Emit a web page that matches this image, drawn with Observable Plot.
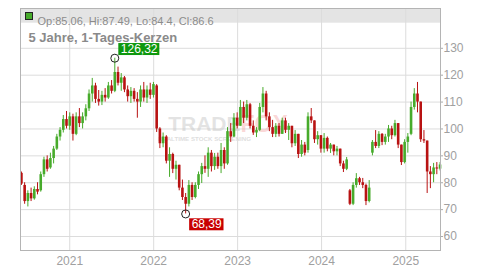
<!DOCTYPE html>
<html><head><meta charset="utf-8">
<script src="https://cdn.jsdelivr.net/npm/d3@7"></script>
<script src="https://cdn.jsdelivr.net/npm/@observablehq/plot@0.6"></script>
<style>
html,body{margin:0;padding:0;background:#fff;}
#chart svg{display:block;}
</style></head><body><div id="chart"></div>
<script>
// ---- data (biweekly candles) ----
const startDate = "2020-06-05";
const stepDays = 14;
const opens = [83.5,79,73,76,74,77.5,77,83,88.5,85.5,89,92.5,97,99.5,103.5,101,104.5,98,104.5,102,
104.5,107.5,113,116,111,110,112.5,111.5,116,114,121,117,119,114.5,112,114,111,110,114.5,111.5,
114.5,112.5,116,100,94.5,97,88,90.5,85,86.5,78,74.5,72,79,74.5,79,83,86,85,91,
86,89.5,86,92,87,99,97,104,101,108,104,109,101,98.5,99.5,108,113,104.5,100.5,98,
101,98,103,99.5,101,94.5,98,90.5,94,92,104.5,103,96,97.5,92.5,96.5,92.5,94,91.5,92.5,
87,85,77,72,79,81.5,80,79,73,91,95,93.5,98,95,97,100,97.5,102,94,87.5,
95,98,108,113,110,96,95.5,84,83,85.5,85.06];
const highs = [84,80,77,78,78.5,80,84,89.5,90,91,93.5,98,100.5,105,106.5,106,105.5,106,107.6,106,
109,114.5,118.8,117,114.3,114,115,117.3,118,126.32,123,120.6,119.5,116,115.4,115,113.5,116,117.3,116,
117,117.3,116.5,100.5,98.5,97.5,93,91,88,86.5,81,76,80.8,80,80,84,87.2,90,93,92,
90.9,91,94.6,93,100.5,102,105.7,106,110.6,110,110.6,109.5,103,100.5,109.5,115.4,114,106,103.2,102,
102,104,104,102,101,99.4,98,95.7,95,106,107.6,103,99,97.5,98.3,97,94.6,94,93.5,92.5,
88,89.4,77.5,80,83.4,82,81.6,79.5,80.8,95.7,99.4,99,98.3,98,101.3,101,103.2,102,94,96,
98.3,110,115,117.3,110,99.4,95.5,86,87.2,87.5,87.49];
const lows = [79,72,71,73,73.5,75.5,76.5,82,84,85,87,92,95.5,98.5,100,99.5,95.5,97.5,100.5,100,
103,106.5,110,109.5,108.5,108.7,110,111,113,113.5,116,114,113.5,110,109.5,110,104,108,110,109.5,
111,111.5,98.7,92.7,93,87,82,83.4,81,77,73.4,68.39,71,73.4,74,77.5,79.7,83.5,82,84,
84.6,85,83.4,85,86.5,95,96.8,100,101,102,103,100,97.6,96.8,99,106,103,99,96.8,96.8,
97,98,98.3,95.7,93,93.5,89,89.5,90,91,102,94.6,94,91,91,91.5,90.9,90,90,86,
83.8,84.5,71.5,71.5,78,79,77.8,71.5,72.5,90,92.7,92.7,93.8,94,95,96,97,92.7,86.4,87,
91,97.5,107,106,95,94.6,76,77.8,80,83,84.4];
const closes = [79.5,73,76,74,77.5,76.5,83,88.5,85,89,92.5,97,99.5,103.5,101,104.5,98,104.5,102,104.5,
107.5,113,116,111,110,112.5,111.5,116,114,121,117,119,114.5,112,114,111,110,114.5,111.5,114.5,
112.5,116.5,100,94.5,97,88,90.5,85,86.5,78,74.5,72,79,74.5,79,83,86,85,91,86,
89.5,86,92,87,99,97,104,101,108,104,109,101,98.5,99.5,108,113,104.5,100.5,98,101,
98,103,99.5,101,94.5,98,90.5,94,91,104.5,103,96,97.5,92.5,96.5,92.5,94,91.5,92.5,87,
85,88.5,72,79,81.5,80,79,73,78,95,93.5,98,95,97,100,97.5,102,94,87.5,95,
97,108,113,110,96,95.5,84,83,85.5,85.1,86.6];

const yTicks = [60,70,80,90,100,110,120,130];
const xTickYears = ["2021","2022","2023","2024","2025"];
const xDomain = ["2020-06-01","2025-06-01"];
const yDomain = [54.8,144.8];
const legendText = "Op:85.06, Hi:87.49, Lo:84.4, Cl:86.6";
const titleText = "5 Jahre, 1-Tages-Kerzen";
const maxLabel = "126,32";
const minLabel = "68,39";
const wmLeft = "TRADE", wmRight = "FOX", wmSub = "REALTIME STOCK SCREENING";

// ---- build ----
const GREEN = "#47ab2b", RED = "#b81212";
const start = new Date(startDate + "T00:00:00Z");
const data = opens.map((o,i)=>({
  date: d3.utcDay.offset(start, i*stepDays),
  open:o, high:highs[i], low:lows[i], close:closes[i]
}));
const up = data.filter(d=>d.close>=d.open);
const dn = data.filter(d=>d.close<d.open);
const maxPt = data[d3.maxIndex(data, d=>d.high)];
const minPt = data[d3.minIndex(data, d=>d.low)];
const font = "Liberation Sans, Arial, Helvetica, sans-serif";

const plot = Plot.plot({
  width: 500, height: 270,
  marginLeft: 20, marginRight: 60, marginTop: 8, marginBottom: 20,
  style: {fontFamily: font, fontSize: "12px", background: "#fff", color: "#999"},
  x: {type: "utc", domain: xDomain.map(s=>new Date(s+"T00:00:00Z"))},
  y: {domain: yDomain},
  marks: [
    Plot.gridY(yTicks, {stroke: "#dcdcdc", strokeOpacity: 1}),
    Plot.gridX(xTickYears.map(s=>new Date(s+"-01-01T00:00:00Z")), {stroke: "#dcdcdc", strokeOpacity: 1}),
    Plot.text([wmLeft], {frameAnchor: "middle", text: d=>d, dx: 10, dy: -5, textAnchor: "end",
      fill: "#c8c8c8", fillOpacity: 0.5, fontSize: 21, fontWeight: "bold"}),
    Plot.text([wmRight], {frameAnchor: "middle", text: d=>d, dx: 10, dy: -5, textAnchor: "start",
      fill: "#f4a8a8", fillOpacity: 0.45, fontSize: 23, fontWeight: "bold"}),
    Plot.text([wmSub], {frameAnchor: "middle", text: d=>d, dx: -26, dy: 10, textAnchor: "middle",
      fill: "#cfcfcf", fillOpacity: 0.7, fontSize: 6.2, fontWeight: "bold"}),
    Plot.ruleX(up, {x: "date", y1: "low", y2: "high", stroke: GREEN, strokeWidth: 1}),
    Plot.ruleX(dn, {x: "date", y1: "low", y2: "high", stroke: RED, strokeWidth: 1}),
    Plot.ruleX(up, {x: "date", y1: "open", y2: "close", stroke: GREEN, strokeWidth: 2.6}),
    Plot.ruleX(dn, {x: "date", y1: "open", y2: "close", stroke: RED, strokeWidth: 2.6}),
    Plot.axisY(yTicks, {anchor: "right", tickSize: 2, tickPadding: 1, stroke: "#aaa",
      fill: "#a0a0a0", fontSize: 12, tickFormat: d=>String(d)}),
    Plot.axisX(xTickYears.map(s=>new Date(s+"-01-01T00:00:00Z")), {anchor: "bottom", tickSize: 0,
      tickPadding: 6, fill: "#a0a0a0", fontSize: 12, tickFormat: d3.utcFormat("%Y")}),
    Plot.frame({stroke: "#b4b4b4"}),
    Plot.text([legendText], {frameAnchor: "top-left", text: d=>d, dx: 17, dy: 8.5,
      textAnchor: "start", fill: "#8c8c8c", fontSize: 11}),
    Plot.text([titleText], {frameAnchor: "top-left", text: d=>d, dx: 8, dy: 24.5,
      textAnchor: "start", fill: "#8a8a8a", fontSize: 13, fontWeight: "bold"}),
    Plot.dot([maxPt], {x: "date", y: "high", r: 4, stroke: "#222", fill: "none", strokeWidth: 1}),
    Plot.dot([minPt], {x: "date", y: "low", r: 4, stroke: "#222", fill: "none", strokeWidth: 1}),
    Plot.text([maxPt], {x: "date", y: "high", text: ()=>maxLabel, dx: 6, dy: -9,
      textAnchor: "start", fill: "#fff", fontSize: 12}),
    Plot.text([minPt], {x: "date", y: "low", text: ()=>minLabel, dx: 6, dy: 10.5,
      textAnchor: "start", fill: "#fff", fontSize: 12})
  ]
});
document.getElementById("chart").appendChild(plot);

// ---- decorations: legend band, legend swatch, label boxes ----
const svgSel = d3.select(plot);
const xr = plot.scale("x").range;
const yr = plot.scale("y").range;
const frameTop = Math.min(yr[0], yr[1]);
svgSel.insert("rect", ":first-child")
  .attr("x", xr[0]).attr("y", frameTop).attr("width", xr[1]-xr[0]).attr("height", 14.7)
  .attr("fill", "#e4e4e4");
svgSel.insert("rect", ":first-child").attr("width", 500).attr("height", 270).attr("fill", "#fff");
svgSel.append("rect").attr("x", xr[0]+5.5).attr("y", frameTop+4.5).attr("width", 7).attr("height", 7)
  .attr("fill", GREEN).attr("stroke", "#222").attr("stroke-width", 1);

const svgBox = plot.getBoundingClientRect();
plot.querySelectorAll("text").forEach(t=>{
  const s = t.textContent;
  if (s === maxLabel || s === minLabel) {
    const b = t.getBoundingClientRect();
    const x0 = b.left - svgBox.left, y0 = b.top - svgBox.top;
    const cy = y0 + b.height/2;
    const r = document.createElementNS("http://www.w3.org/2000/svg","rect");
    r.setAttribute("x", x0 - 2.5);
    r.setAttribute("y", cy - 6);
    r.setAttribute("width", b.width + 4);
    r.setAttribute("height", 12);
    r.setAttribute("fill", s === maxLabel ? "#0e980e" : "#c80000");
    let host = t;
    while (host.parentNode && host.parentNode !== plot) host = host.parentNode;
    plot.appendChild(host);
    plot.insertBefore(r, host);
  }
});
</script>
</body></html>
